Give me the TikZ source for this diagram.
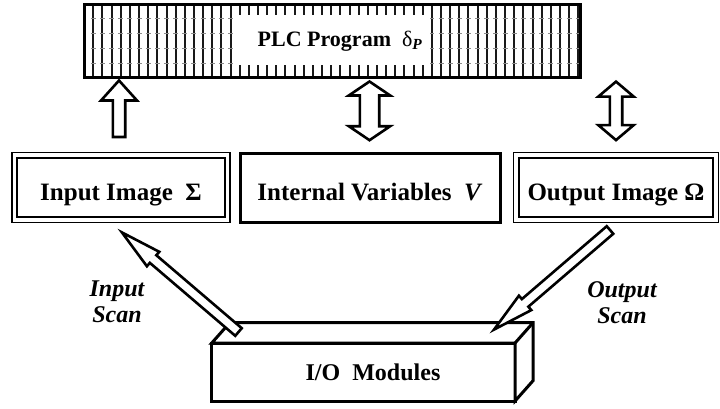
\documentclass[tikz,border=0pt]{standalone}
\usepackage{fontspec}
\setmainfont{Liberation Serif}
\usetikzlibrary{calc}

\tikzset{
  blockarr/.style={draw=black, fill=white, line width=2.6pt, line join=miter, miter limit=20},
  boxtext/.style={font=\fontsize{25}{28}\selectfont\bfseries, text height=25pt, text depth=0pt,
                  inner sep=0pt, outer sep=0pt},
  dblbox/.style={boxtext, draw, line width=1.5pt, fill=white},
  sglbox/.style={boxtext, draw, line width=3pt, fill=white},
  hatchline/.style={draw=black!90, line width=2pt},
  hatchtick/.style={draw=black!45, line width=0.8pt},
  solid3d/.style={draw, line width=3pt, line join=miter},
  scanlabel/.style={font=\fontsize{24}{26}\selectfont\bfseries\itshape, align=center, inner sep=0pt}
}

% angle and length of the segment between two named points
\newcommand\arrowparams[2]{%
  \path let \p1=($(#2)-(#1)$) in \pgfextra{%
    \pgfmathsetmacro\tmpang{atan2(\y1,\x1)}%
    \pgfmathsetmacro\tmplen{veclen(\x1,\y1)}%
    \global\let\ArAng\tmpang \global\let\ArLen\tmplen};%
}
% hollow block arrow: from, to, half shaft, half head, head length
\newcommand\singlearrow[5]{%
  \arrowparams{#1}{#2}%
  \draw[blockarr, shift={(#1)}, rotate=\ArAng]
    (0,-#3) -- ({\ArLen-#5},-#3) -- ({\ArLen-#5},-#4) -- (\ArLen,0)
    -- ({\ArLen-#5},#4) -- ({\ArLen-#5},#3) -- (0,#3) -- cycle;
}
% hollow block arrow with a head at both ends
\newcommand\doublearrow[5]{%
  \arrowparams{#1}{#2}%
  \draw[blockarr, shift={(#1)}, rotate=\ArAng]
    (0,0) -- (#5,#4) -- (#5,#3) -- ({\ArLen-#5},#3) -- ({\ArLen-#5},#4) -- (\ArLen,0)
    -- ({\ArLen-#5},-#4) -- ({\ArLen-#5},-#3) -- (#5,-#3) -- (#5,-#4) -- cycle;
}

\begin{document}
\begin{tikzpicture}[x=1pt, y=1pt]
\useasboundingbox (0,0) rectangle (720,408);
\fill[white] (0,0) rectangle (720,408);

% ---- PLC program bar with vertical hatching ----
\foreach \k in {0,...,53}{
  \draw[hatchline] ({93.3+9.15*\k},330.5) -- ({93.3+9.15*\k},403.8);
  \foreach \t in {345,360,375,390}
    \draw[hatchtick] ({93.3+9.15*\k-2.5},\t) -- ++(5,0);
}
\node[fill=white, minimum width=197pt, minimum height=50pt, inner sep=0pt] (plcwin) at (331.5,368) {};
\node[draw, line width=3pt, minimum width=496pt, minimum height=73.3pt, inner sep=0pt, outer sep=0pt]
  (plc) at (332.5,367.15) {};
\node[font=\fontsize{22}{24}\selectfont\bfseries, anchor=base, inner sep=0pt] (plctext) at (340,361.3)
  {PLC Program\ \ {\mdseries δ}\textsubscript{\itshape P}};

% ---- memory areas ----
\node[dblbox, minimum width=218pt, minimum height=70pt] (inimg) at (121,220.5) {Input Image\ \ Σ};
\draw[line width=2.2pt] ([shift={(5.3,-5.3)}]inimg.north west) rectangle ([shift={(-5.3,5.3)}]inimg.south east);

\node[sglbox, minimum width=260pt, minimum height=68.5pt] (intv) at (370,220.25) {Internal Variables\ \ \textit{V}};

\node[dblbox, minimum width=205pt, minimum height=70pt] (outimg) at (616,220.5) {Output Image\ Ω};
\draw[line width=2.2pt] ([shift={(5.3,-5.3)}]outimg.north west) rectangle ([shift={(-5.3,5.3)}]outimg.south east);

% ---- transfers between memory and program ----
\coordinate (upTail) at ($(inimg.north)+(-2,15.5)$);
\coordinate (upTip)  at ($(plc.south -| upTail)+(0,-3)$);
\singlearrow{upTail}{upTip}{6.2}{18}{20}

\coordinate (midLow)  at ($(intv.north)+(-0.5,13.3)$);
\coordinate (midHigh) at ($(plc.south -| midLow)+(0,-4)$);
\doublearrow{midLow}{midHigh}{9.7}{20.7}{14}

\coordinate (rgtLow)  at ($(outimg.north)+(0,12.4)$);
\coordinate (rgtHigh) at ($(plc.south -| rgtLow)+(0,-4.1)$);
\doublearrow{rgtLow}{rgtHigh}{6.2}{17.7}{15}

% ---- I/O modules block ----
\node[draw, line width=3pt, fill=white, minimum width=303.3pt, minimum height=58pt,
      inner sep=0pt, outer sep=0pt] (io) at (363.4,36) {};
\draw[solid3d, fill=white] (io.north west) -- ++(18,20.3) -- ++(303.3,0) -- ++(0,-58)
  -- (io.south east) -- (io.north east) -- cycle;
\draw[solid3d] (io.north east) -- ++(18,20.3);
\node[font=\fontsize{24}{26}\selectfont\bfseries, anchor=base, inner sep=0pt] (iotext) at (373,28)
  {I/O\ \ Modules};

% ---- scan arrows ----
\coordinate (inScanTail) at (238.5,76);
\coordinate (inScanTip)  at (121.9,175.6);
\singlearrow{inScanTail}{inScanTip}{5}{9.5}{41}

\coordinate (outScanTail) at (610,178);
\coordinate (outScanTip)  at (494,78.4);
\singlearrow{outScanTail}{outScanTip}{5}{9.5}{41}

\node[scanlabel] (inscan)  at (117,106) {Input\\Scan};
\node[scanlabel] (outscan) at (622,105.5) {Output\\Scan};
\end{tikzpicture}
\end{document}
